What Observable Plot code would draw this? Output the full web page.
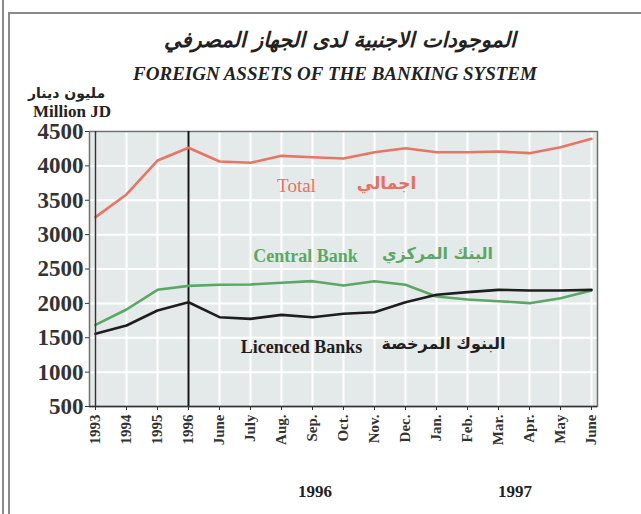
<!DOCTYPE html>
<html><head><meta charset="utf-8">
<script src="https://cdn.jsdelivr.net/npm/d3@7"></script>
<script src="https://cdn.jsdelivr.net/npm/@observablehq/plot@0.6"></script>
<style>
body{margin:0;background:#fff;}
#wrap{position:relative;width:641px;height:514px;overflow:hidden;background:#fff;}
#chart{position:absolute;left:0;top:0;}
.t{position:absolute;white-space:nowrap;font-family:"Liberation Serif",serif;font-weight:bold;color:#222;line-height:1;}
.ar{font-family:"DejaVu Sans",sans-serif;}
.bl{position:absolute;background:#8a8a8a;}
</style></head><body>
<div id="wrap">
  <div class="bl" style="left:2px;top:0;width:1.5px;height:514px"></div>
  <div class="bl" style="left:8px;top:12px;width:1.5px;height:502px"></div>
  <div class="bl" style="left:8px;top:12px;width:633px;height:1.5px"></div>
  <div id="chart"></div>
  <div class="t ar" id="titleAr" style="left:0;width:680px;text-align:center;top:30px;font-size:21px;font-style:italic;" dir="rtl">الموجودات الاجنبية لدى الجهاز المصرفي</div>
  <div class="t" id="titleEn" style="left:0;width:670px;text-align:center;top:64px;font-size:19px;font-style:italic;">FOREIGN ASSETS OF THE BANKING SYSTEM</div>
  <div class="t ar" style="left:28px;top:86px;font-size:14px;" dir="rtl">مليون دينار</div>
  <div class="t" style="left:33px;top:103px;font-size:17px;">Million JD</div>
  <div class="t" style="left:298px;top:483px;font-size:17px;">1996</div>
  <div class="t" style="left:498px;top:483px;font-size:17px;">1997</div>
</div>
<script>
const periods = ["1993","1994","1995","1996","Jun96","Jul96","Aug96","Sep96","Oct96","Nov96","Dec96","Jan97","Feb97","Mar97","Apr97","May97","Jun97"];
const tickLabels = ["1993","1994","1995","1996","June","July","Aug.","Sep.","Oct.","Nov.","Dec.","Jan.","Feb.","Mar.","Apr.","May","June"];
const total = [3254,3584,4078,4263,4064,4045,4146,4126,4107,4199,4257,4199,4199,4209,4185,4272,4393];
const centralBank = [1688,1911,2197,2255,2270,2275,2299,2323,2260,2323,2270,2100,2056,2032,2003,2075,2188];
const licencedBanks = [1557,1678,1896,2017,1799,1775,1833,1799,1848,1872,2017,2125,2163,2197,2188,2188,2197];
const yTicks = [500,1000,1500,2000,2500,3000,3500,4000,4500];

const labelOf = new Map(periods.map((p, i) => [p, tickLabels[i]]));
const rows = (vals) => periods.map((p, i) => ({period: p, value: vals[i]}));

const serif = "Liberation Serif";
const arab = "DejaVu Sans";

const chart = Plot.plot({
  width: 641, height: 514,
  marginLeft: 89, marginRight: 44, marginTop: 131, marginBottom: 108,
  x: {type: "point", domain: periods, padding: 0, label: null},
  y: {domain: [500, 4500], label: null},
  style: {background: "transparent", fontFamily: serif, overflow: "visible"},
  marks: [
    Plot.frame({fill: "#e4eae9", stroke: null}),
    Plot.gridY(yTicks, {stroke: "#fff", strokeOpacity: 1, strokeWidth: 2}),
    Plot.gridX(periods, {stroke: "#fff", strokeOpacity: 1, strokeWidth: 2}),
    Plot.frame({stroke: "#6f6f6f", strokeWidth: 1.5}),
    Plot.ruleX(["1996"], {stroke: "#151515", strokeWidth: 2}),
    Plot.line(rows(centralBank), {x: "period", y: "value", stroke: "#5ba765", strokeWidth: 2.6}),
    Plot.line(rows(total), {x: "period", y: "value", stroke: "#ea7462", strokeWidth: 2.6}),
    Plot.line(rows(licencedBanks), {x: "period", y: "value", stroke: "#1e1e1e", strokeWidth: 2.6}),
    Plot.ruleY([500], {stroke: "#333", strokeWidth: 1.5}),
    Plot.ruleX([periods[0]], {stroke: "#333", strokeWidth: 1.5}),
    Plot.text(["Total"], {x: () => "Aug96", y: () => 3714, dx: 15, fill: "#e8705e", fontSize: 19, fontFamily: serif}),
    Plot.text(["اجمالي"], {x: () => "Nov96", y: () => 3744, dx: 12, fill: "#e8705e", fontSize: 17, fontWeight: "bold", fontFamily: arab}),
    Plot.text(["Central Bank"], {x: () => "Sep96", y: () => 2682, dx: -7, fill: "#5ba765", fontSize: 18, fontWeight: "bold", fontFamily: serif}),
    Plot.text(["البنك المركزي"], {x: () => "Dec96", y: () => 2725, dx: 32, fill: "#5ba765", fontSize: 16, fontWeight: "bold", fontFamily: arab}),
    Plot.text(["Licenced Banks"], {x: () => "Sep96", y: () => 1358, dx: -11, fill: "#1e1e1e", fontSize: 18, fontWeight: "bold", fontFamily: serif}),
    Plot.text(["البنوك المرخصة"], {x: () => "Dec96", y: () => 1416, dx: 38, fill: "#1e1e1e", fontSize: 16, fontWeight: "bold", fontFamily: arab}),
    Plot.axisY(yTicks, {tickSize: 4, tickPadding: 2, tickFormat: d => String(d), label: null, fontSize: 23, fontWeight: "bold", fill: "#333", stroke: "#333", fontFamily: serif}),
    Plot.axisX(periods, {tickRotate: -90, tickFormat: d => labelOf.get(d), label: null, tickSize: 4, tickPadding: 4, fontSize: 15, fontWeight: "bold", fill: "#333", stroke: "#333", fontFamily: serif})
  ]
});
document.getElementById("chart").appendChild(chart);
</script>
</body></html>
